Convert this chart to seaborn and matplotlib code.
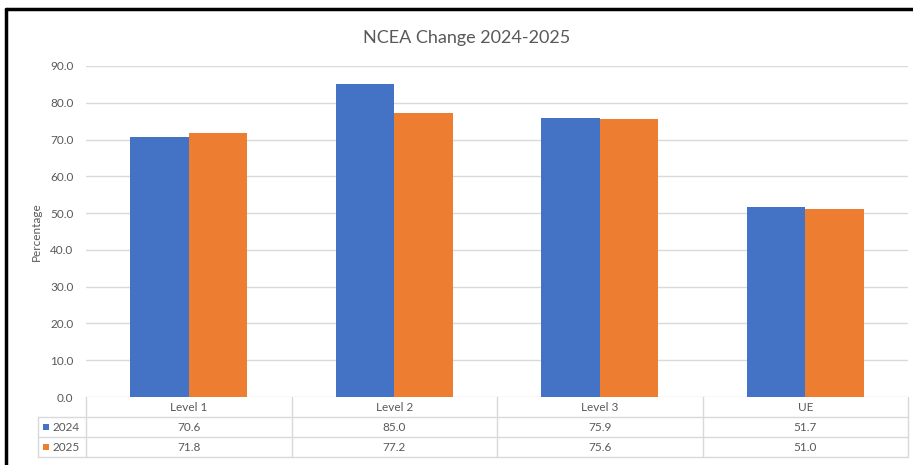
import matplotlib
matplotlib.use("Agg")
import matplotlib.pyplot as plt
import seaborn as sns
import pandas as pd
from matplotlib.lines import Line2D
from matplotlib.patches import Rectangle

categories = ["Level 1", "Level 2", "Level 3", "UE"]
years = ["2024", "2025"]
values_2024 = [70.6, 85.0, 75.9, 51.7]
values_2025 = [71.8, 77.2, 75.6, 51.0]
yticks = [0, 10, 20, 30, 40, 50, 60, 70, 80, 90]
title = "NCEA Change 2024-2025"
ylabel = "Percentage"

colors = {"2024": "#4472C4", "2025": "#ED7D31"}

df = pd.DataFrame({
    "Category": categories * 2,
    "Year": [years[0]] * len(categories) + [years[1]] * len(categories),
    "Value": values_2024 + values_2025,
})

sns.set_style("white")
plt.rcParams["font.family"] = ["Lato", "DejaVu Sans"]

W, H = 913, 465
fig = plt.figure(figsize=(W / 100, H / 100), dpi=100)

def fx(px):
    return px / W

def fy(py):
    return 1 - py / H

left, right, top, bottom = 86, 908, 66, 397
ax = fig.add_axes([fx(left), fy(bottom), fx(right - left), fy(top) - fy(bottom)])

sns.barplot(data=df, x="Category", y="Value", hue="Year", palette=colors,
            width=0.57, gap=0, ax=ax, legend=False, errorbar=None,
            saturation=1, order=categories, hue_order=years)
for p in ax.patches:
    p.set_edgecolor("none")

ax.set_xlim(-0.5, len(categories) - 0.5)
ax.set_ylim(0, 90)
ax.set_yticks(yticks)
ax.set_yticklabels([f"{v:.1f}" for v in yticks], color="#595959", fontsize=8.5)
ax.tick_params(axis="y", length=0, pad=9)
ax.set_xticks([])
ax.set_xlabel("")
ax.set_ylabel(ylabel, color="#595959", fontsize=8.5, labelpad=6)
ax.yaxis.grid(True, color="#d9d9d9", linewidth=1)
ax.set_axisbelow(True)
for s in ax.spines.values():
    s.set_visible(False)

fig.text(fx(467), fy(38), title, ha="center", va="center", fontsize=13, color="#595959")

# Data table below the axes
row_h = 20
tbl_top = bottom
table_left = 38
line_col = "#d9d9d9"
col_w = (right - left) / len(categories)
txt_col = "#595959"
fs = 8.5

def hline(y, x0, x1):
    fig.add_artist(Line2D([fx(x0), fx(x1)], [fy(y), fy(y)], color=line_col, lw=1))

def vline(x, y0, y1):
    fig.add_artist(Line2D([fx(x), fx(x)], [fy(y0), fy(y1)], color=line_col, lw=1))

hline(tbl_top + row_h, table_left, right)
hline(tbl_top + 2 * row_h, table_left, right)
hline(tbl_top + 3 * row_h, table_left, right)
vline(table_left, tbl_top + row_h, tbl_top + 3 * row_h)
for i in range(len(categories) + 1):
    vline(left + i * col_w, tbl_top, tbl_top + 3 * row_h)

for i, cat in enumerate(categories):
    cx = left + (i + 0.5) * col_w
    fig.text(fx(cx), fy(tbl_top + row_h / 2), cat, ha="center", va="center",
             fontsize=fs, color=txt_col)
    fig.text(fx(cx), fy(tbl_top + 1.5 * row_h), f"{values_2024[i]:.1f}", ha="center",
             va="center", fontsize=fs, color=txt_col)
    fig.text(fx(cx), fy(tbl_top + 2.5 * row_h), f"{values_2025[i]:.1f}", ha="center",
             va="center", fontsize=fs, color=txt_col)

for j, yr in enumerate(years):
    cy = tbl_top + (1.5 + j) * row_h
    fig.add_artist(Rectangle((fx(43), fy(cy + 3)), fx(6), fy(cy - 3) - fy(cy + 3),
                             facecolor=colors[yr], edgecolor="none"))
    fig.text(fx(52), fy(cy), yr, ha="left", va="center", fontsize=fs, color=txt_col)

# Outer frame (screenshot border)
fig.add_artist(Line2D([fx(6), fx(W)], [fy(9), fy(9)], color="black", lw=2.5))
fig.add_artist(Line2D([fx(6), fx(6)], [fy(9), fy(H)], color="black", lw=2.5))

fig.savefig("out.png", dpi=100)
